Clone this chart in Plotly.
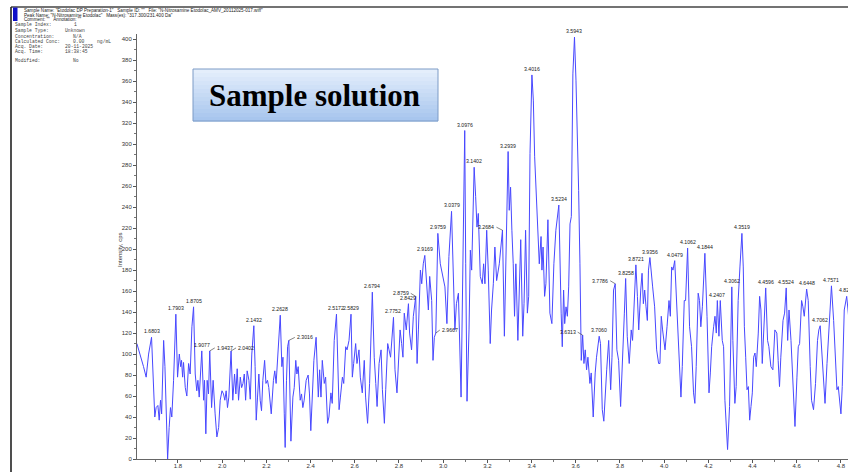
import plotly.graph_objects as go

# ---------------- data ----------------
time_min = [
    1.614, 1.629, 1.644, 1.656, 1.667, 1.6803, 1.686, 1.695, 1.701, 1.709, 1.715, 1.721, 1.726, 1.735,
    1.741, 1.747, 1.753, 1.760, 1.766, 1.772, 1.780, 1.7903, 1.798, 1.806, 1.812, 1.816, 1.821, 1.825,
    1.833, 1.840, 1.848, 1.855, 1.863, 1.8705, 1.878, 1.885, 1.890, 1.896, 1.9077, 1.916, 1.920, 1.926,
    1.932, 1.938, 1.9437, 1.952, 1.959, 1.968, 1.976, 1.984, 1.991, 1.999, 2.006, 2.012, 2.018, 2.024,
    2.030, 2.0402, 2.048, 2.056, 2.062, 2.068, 2.074, 2.082, 2.088, 2.094, 2.100, 2.106, 2.113, 2.121,
    2.127, 2.134, 2.1432, 2.149, 2.154, 2.160, 2.166, 2.172, 2.178, 2.184, 2.192, 2.198, 2.205, 2.211,
    2.222, 2.232, 2.238, 2.244, 2.252, 2.2628, 2.270, 2.275, 2.281, 2.285, 2.291, 2.296, 2.3016, 2.306,
    2.311, 2.320, 2.326, 2.333, 2.338, 2.344, 2.353, 2.359, 2.365, 2.371, 2.380, 2.389, 2.395, 2.401,
    2.409, 2.415, 2.425, 2.428, 2.435, 2.441, 2.447, 2.453, 2.462, 2.468, 2.477, 2.483, 2.492, 2.498,
    2.507, 2.5172, 2.523, 2.529, 2.535, 2.544, 2.550, 2.559, 2.565, 2.574, 2.5829, 2.589, 2.595, 2.604,
    2.610, 2.619, 2.625, 2.634, 2.643, 2.649, 2.658, 2.667, 2.6794, 2.688, 2.695, 2.701, 2.710, 2.719,
    2.725, 2.734, 2.740, 2.749, 2.755, 2.762, 2.7752, 2.782, 2.791, 2.797, 2.805, 2.812, 2.818, 2.824,
    2.833, 2.8429, 2.848, 2.857, 2.865, 2.8759, 2.882, 2.888, 2.897, 2.903, 2.910, 2.9169, 2.924, 2.933,
    2.939, 2.948, 2.954, 2.960, 2.9667, 2.9705, 2.9759, 2.987, 2.999, 3.008, 3.017, 3.026, 3.0379, 3.044,
    3.053, 3.060, 3.069, 3.081, 3.090, 3.0976, 3.102, 3.108, 3.117, 3.123, 3.129, 3.1402, 3.147, 3.153,
    3.159, 3.168, 3.177, 3.183, 3.189, 3.197, 3.204, 3.213, 3.219, 3.227, 3.234, 3.242, 3.254, 3.2684,
    3.277, 3.284, 3.290, 3.2939, 3.299, 3.305, 3.311, 3.317, 3.323, 3.329, 3.338, 3.345, 3.351, 3.360,
    3.366, 3.373, 3.381, 3.387, 3.393, 3.4016, 3.408, 3.414, 3.420, 3.429, 3.435, 3.443, 3.447, 3.452,
    3.459, 3.465, 3.474, 3.483, 3.492, 3.501, 3.510, 3.5234, 3.530, 3.534, 3.539, 3.545, 3.550, 3.556,
    3.562, 3.568, 3.574, 3.580, 3.587, 3.5943, 3.601, 3.607, 3.613, 3.619, 3.625, 3.6313, 3.637, 3.643,
    3.649, 3.655, 3.664, 3.670, 3.679, 3.688, 3.694, 3.7060, 3.712, 3.720, 3.727, 3.740, 3.749, 3.758,
    3.764, 3.771, 3.7786, 3.786, 3.794, 3.803, 3.812, 3.820, 3.8258, 3.833, 3.842, 3.851, 3.857, 3.865,
    3.8721, 3.879, 3.885, 3.894, 3.900, 3.906, 3.912, 3.918, 3.924, 3.929, 3.9356, 3.948, 3.957, 3.966,
    3.975, 3.981, 3.987, 3.993, 4.004, 4.013, 4.022, 4.028, 4.034, 4.040, 4.0479, 4.058, 4.064, 4.073,
    4.076, 4.082, 4.091, 4.097, 4.1062, 4.115, 4.124, 4.133, 4.139, 4.145, 4.154, 4.160, 4.166, 4.173,
    4.179, 4.1844, 4.194, 4.203, 4.209, 4.215, 4.224, 4.230, 4.236, 4.2407, 4.248, 4.254, 4.263, 4.269,
    4.275, 4.281, 4.287, 4.296, 4.302, 4.3062, 4.311, 4.320, 4.326, 4.335, 4.343, 4.3519, 4.358, 4.363,
    4.369, 4.375, 4.381, 4.387, 4.393, 4.399, 4.405, 4.411, 4.417, 4.426, 4.432, 4.438, 4.444, 4.450,
    4.4596, 4.468, 4.474, 4.483, 4.492, 4.501, 4.510, 4.516, 4.522, 4.528, 4.538, 4.545, 4.5524, 4.559,
    4.565, 4.574, 4.583, 4.592, 4.601, 4.607, 4.613, 4.622, 4.628, 4.634, 4.6448, 4.652, 4.661, 4.667,
    4.676, 4.685, 4.694, 4.700, 4.7062, 4.712, 4.721, 4.728, 4.737, 4.746, 4.7571, 4.767, 4.773, 4.782,
    4.788, 4.800, 4.806, 4.815, 4.8261, 4.834, 4.842,
]
intensity_cps = [
    110, 100, 88, 78, 100, 116, 81, 40, 49, 51, 37, 56, 43, 113,
    88, 43, 0, 30, 49, 40, 75, 138, 78, 100, 88, 94, 78, 92,
    68, 60, 91, 81, 126, 145, 81, 65, 75, 59, 103, 56, 75, 24,
    75, 62, 103, 49, 75, 43, 21, 30, 56, 65, 62, 56, 65, 49,
    59, 103, 56, 81, 62, 86, 56, 78, 68, 72, 81, 56, 84, 75,
    57, 100, 127, 88, 37, 59, 81, 56, 46, 75, 94, 72, 75, 68,
    43, 75, 84, 72, 100, 137, 88, 97, 43, 11, 75, 107, 113, 75,
    17, 59, 68, 94, 81, 88, 56, 62, 49, 56, 75, 80, 62, 27,
    62, 94, 116, 91, 59, 85, 59, 94, 72, 78, 34, 40, 63, 53,
    113, 138, 97, 47, 59, 78, 72, 107, 104, 113, 138, 78, 91, 110,
    91, 104, 78, 63, 94, 59, 34, 72, 159, 97, 72, 50, 91, 104,
    66, 34, 66, 110, 104, 97, 135, 85, 63, 94, 123, 110, 97, 139,
    123, 148, 120, 104, 136, 155, 91, 123, 180, 167, 186, 194, 167, 142,
    174, 151, 94, 116, 120, 167, 215, 186, 174, 164, 129, 193, 236, 193,
    123, 148, 158, 59, 218, 313, 186, 55, 123, 199, 180, 278, 250, 221,
    234, 174, 167, 186, 167, 218, 180, 110, 142, 167, 202, 170, 186, 218,
    117, 199, 237, 293, 237, 259, 218, 186, 136, 186, 113, 180, 209, 117,
    148, 218, 139, 155, 291, 366, 342, 288, 256, 205, 186, 212, 180, 202,
    155, 167, 228, 139, 129, 186, 218, 242, 167, 139, 107, 161, 129, 145,
    136, 164, 224, 231, 367, 402, 361, 320, 256, 186, 94, 118, 91, 104,
    85, 97, 72, 82, 40, 82, 97, 117, 110, 47, 36, 85, 113, 66,
    97, 161, 167, 104, 94, 50, 91, 139, 172, 117, 91, 123, 113, 148,
    185, 155, 123, 161, 177, 148, 161, 145, 132, 180, 192, 164, 145, 104,
    91, 91, 136, 123, 104, 126, 151, 136, 183, 180, 189, 142, 113, 69,
    59, 88, 151, 151, 201, 126, 107, 63, 53, 88, 158, 151, 126, 145,
    183, 196, 136, 63, 82, 107, 126, 136, 120, 151, 117, 151, 113, 107,
    56, 34, 9, 50, 126, 164, 113, 53, 69, 151, 183, 215, 183, 126,
    97, 66, 69, 37, 50, 63, 97, 101, 88, 120, 155, 142, 91, 120,
    163, 113, 107, 88, 85, 123, 120, 94, 69, 97, 132, 139, 163, 113,
    142, 113, 75, 31, 78, 107, 110, 151, 145, 136, 162, 151, 88, 56,
    47, 72, 113, 123, 127, 107, 69, 53, 91, 126, 165, 132, 101, 66,
    69, 43, 69, 142, 155, 140, 120,
]

peak_labels = [
    "1.6803", "1.7903", "1.8705", "1.9077", "1.9437", "2.0402", "2.1432", "2.2628", "2.3016",
    "2.5172", "2.5829", "2.6794", "2.7752", "2.8429", "2.8759", "2.9169", "2.9667", "2.9759",
    "3.0379", "3.0976", "3.1402", "3.2684", "3.2939", "3.4016", "3.5234", "3.5943", "3.6313",
    "3.7060", "3.7786", "3.8258", "3.8721", "3.9356", "4.0479", "4.1062", "4.1844", "4.2407",
    "4.3062", "4.3519", "4.4596", "4.5524", "4.6448", "4.7062", "4.7571", "4.8261",
]

y_ticks = list(range(0, 401, 20))

header_lines = [
    'Sample Name: "Etodolac DP Preparation-1"   Sample ID: ""   File: "N-Nitrosamine Etodolac_AMV_20112025-017.wiff"',
    'Peak Name: "N-Nitrosamine Etodolac"   Mass(es): "317.300/231.400 Da"',
    'Comment: ""   Annotation: ""',
]
info_keys = ["Sample Index:", "Sample Type:", "Concentration:", "Calculated Conc:",
             "Acq. Date:", "Acq. Time:", "Modified:"]
info_vals = ["1", "Unknown", "N/A", "0.00", "20-11-2025", "18:38:45", "No"]

# ---------------- layout geometry (pixels) ----------------
W, H = 848, 472
L, R, T, B = 137, 0, 34, 13
PW, PH = W - L - R, H - T - B
X0, X1 = 1.6145, 4.832
Y0, Y1 = 0, 405


def px(xp):
    return (xp - L) / PW


def py(yp):
    return (H - B - yp) / PH


fig = go.Figure()
fig.add_trace(go.Scatter(x=time_min, y=intensity_cps, mode="lines",
                         line=dict(color="rgb(72,72,255)", width=1), hoverinfo="skip",
                         showlegend=False))

ann = []
# leader-line labels: offset in px (negative = label to the left)
leaders = {"1.9437": 5, "2.0402": 5, "2.3016": 6, "2.8759": -5, "2.9667": 4,
           "3.2684": -6, "3.6313": -5, "3.7786": -5}
lab_font = dict(size=5.2, color="#1a1a1a", family="Liberation Sans")
for lab in peak_labels:
    t = float(lab)
    i = min(range(len(time_min)), key=lambda k: abs(time_min[k] - t))
    v = intensity_cps[i]
    if lab in leaders:
        ann.append(dict(x=time_min[i], y=v, xref="x", yref="y", text=lab, showarrow=True,
                        arrowhead=0, arrowwidth=0.6, arrowcolor="#333", ax=leaders[lab], ay=-3,
                        xanchor="left" if leaders[lab] > 0 else "right", yanchor="middle",
                        font=lab_font))
    else:
        ann.append(dict(x=time_min[i], y=v, xref="x", yref="y", text=lab, showarrow=False,
                        yanchor="bottom", yshift=1, font=lab_font))

# header lines
for k, line in enumerate(header_lines):
    ann.append(dict(x=px(22), y=py(10 + 5 * k), xref="paper", yref="paper", text=line,
                    showarrow=False, xanchor="left", yanchor="middle",
                    font=dict(size=4.6, color="#222", family="Liberation Sans")))
info_y = [25, 30.7, 36, 41.7, 46.7, 51.7, 60.7]
info_x = [72, 63, 71, 71, 63, 63, 71]
for k in range(len(info_keys)):
    ann.append(dict(x=px(13), y=py(info_y[k]), xref="paper", yref="paper", text=info_keys[k],
                    showarrow=False, xanchor="left", yanchor="middle",
                    font=dict(size=4.7, color="#444", family="Liberation Mono")))
    ann.append(dict(x=px(info_x[k]), y=py(info_y[k]), xref="paper", yref="paper", text=info_vals[k],
                    showarrow=False, xanchor="left", yanchor="middle",
                    font=dict(size=4.7, color="#444", family="Liberation Mono")))
ann.append(dict(x=px(95), y=py(41.7), xref="paper", yref="paper", text="ng/mL",
                showarrow=False, xanchor="left", yanchor="middle",
                font=dict(size=4.7, color="#444", family="Liberation Mono")))

# axis titles
ann.append(dict(x=px(120), y=py(250), xref="paper", yref="paper", text="Intensity, cps",
                showarrow=False, textangle=-90, xanchor="center", yanchor="middle",
                font=dict(size=6, color="#333", family="Liberation Sans")))
ann.append(dict(x=px(488), y=py(468.5), xref="paper", yref="paper", text="Time, min",
                showarrow=False, xanchor="left", yanchor="top",
                font=dict(size=6, color="#333", family="Liberation Sans")))

# "Sample solution" box text
ann.append(dict(x=px(314), y=py(95), xref="paper", yref="paper", text="<b>Sample solution</b>",
                showarrow=False, xanchor="center", yanchor="middle",
                font=dict(size=31, color="#000", family="Liberation Serif")))

shapes = []
# gradient box
bx0, bx1, by0, by1 = 193, 438, 69, 121
n = 13
top_c, bot_c = (228, 238, 251), (168, 198, 238)
for k in range(n):
    f = k / (n - 1)
    c = tuple(int(round(top_c[j] + (bot_c[j] - top_c[j]) * f)) for j in range(3))
    ya = by0 + (by1 - by0) * k / n
    yb = by0 + (by1 - by0) * (k + 1) / n
    shapes.append(dict(type="rect", xref="paper", yref="paper", x0=px(bx0), x1=px(bx1),
                       y0=py(ya), y1=py(yb + 0.5), line=dict(width=0),
                       fillcolor="rgb(%d,%d,%d)" % c, layer="above"))
shapes.append(dict(type="rect", xref="paper", yref="paper", x0=px(bx0), x1=px(bx1),
                   y0=py(by0), y1=py(by1), line=dict(width=1, color="#7d9bc6"),
                   fillcolor="rgba(0,0,0,0)", layer="above"))
# frame lines and blue marker
shapes.append(dict(type="line", xref="paper", yref="paper", x0=px(11), x1=px(W + 2),
                   y0=py(7), y1=py(7), line=dict(width=1.6, color="#444")))
shapes.append(dict(type="line", xref="paper", yref="paper", x0=px(11), x1=px(11),
                   y0=py(7), y1=py(H + 2), line=dict(width=1.6, color="#222")))
shapes.append(dict(type="rect", xref="paper", yref="paper", x0=px(13), x1=px(17.5),
                   y0=py(7.5), y1=py(21), line=dict(width=0), fillcolor="#1010c8"))

fig.update_layout(
    width=W, height=H, margin=dict(l=L, r=R, t=T, b=B, pad=0),
    paper_bgcolor="white", plot_bgcolor="white",
    annotations=ann, shapes=shapes, showlegend=False,
    xaxis=dict(range=[X0, X1], tick0=0, dtick=0.2, tickformat=".1f", ticks="outside",
               ticklen=3, tickwidth=0.8, tickcolor="#555", showgrid=False, zeroline=False,
               showline=True, linecolor="#666", linewidth=1, ticklabelstandoff=-2,
               tickfont=dict(size=6, color="#333", family="Liberation Sans"),
               minor=dict(dtick=0.1, ticks="outside", ticklen=2, tickcolor="#777", showgrid=False)),
    yaxis=dict(range=[Y0, Y1], tickvals=y_ticks, ticks="outside", ticklen=3, tickwidth=0.8,
               tickcolor="#555", showgrid=False, zeroline=False, showline=True,
               linecolor="#666", linewidth=1,
               tickfont=dict(size=6, color="#333", family="Liberation Sans"),
               minor=dict(dtick=10, ticks="outside", ticklen=2, tickcolor="#777", showgrid=False)),
)

fig.write_html("out.html")
